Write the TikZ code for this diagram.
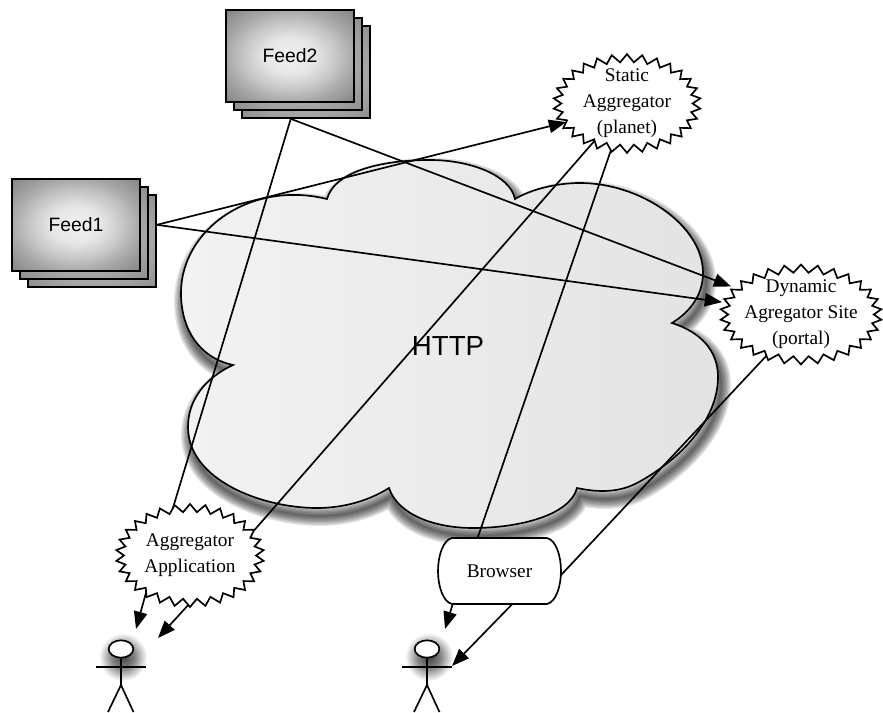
\documentclass[tikz,border=0pt]{standalone}
\usepackage{fontspec}
\setmainfont{Liberation Serif}
\newfontfamily\helv{Liberation Sans}
\usetikzlibrary{arrows.meta,shapes.symbols,shapes.geometric}

\pgfdeclareradialshading{feedshade}{\pgfpointorigin}{color(0bp)=(black!5); color(10bp)=(black!10); color(18bp)=(black!22); color(25bp)=(black!34); color(35bp)=(black!48); color(50bp)=(black!48)}
\pgfdeclareradialshading{stackshade}{\pgfpointorigin}{color(0bp)=(black!24); color(25bp)=(black!36); color(35bp)=(black!44); color(50bp)=(black!44)}
\pgfdeclareradialshading{manshade}{\pgfpointorigin}{color(0bp)=(black!75); color(12bp)=(black!48); color(25bp)=(white); color(50bp)=(white)}

\def\cloudpath{(327,199) .. controls (250,180) and (181,230) .. (181,293)
  .. controls (181,330) and (200,358) .. (233,365)
  .. controls (205,378) and (188,400) .. (188,427)
  .. controls (188,480) and (262,508) .. (317,508)
  .. controls (345,508) and (370,500) .. (389,488)
  .. controls (398,515) and (435,528) .. (473,528)
  .. controls (520,528) and (570,515) .. (577,488)
  .. controls (600,493) and (620,492) .. (637,483)
  .. controls (680,460) and (718,420) .. (718,377)
  .. controls (718,350) and (700,332) .. (672,323)
  .. controls (690,312) and (703,295) .. (703,273)
  .. controls (703,225) and (640,183) .. (580,183)
  .. controls (555,183) and (530,190) .. (515,199)
  .. controls (510,175) and (470,160) .. (430,160)
  .. controls (385,160) and (335,170) .. (327,199) -- cycle}

\tikzset{
  feedbox/.style={draw,line width=1.25pt,shade,shading=feedshade,
    minimum width=96pt,minimum height=69pt,inner sep=0pt,font=\helv\fontsize{14.5}{18}\selectfont},
  stackbox/.style={feedbox,shading=stackshade},
  aggstar/.style={shape=starburst,draw,line width=1.25pt,fill=white,starburst points=30,
    starburst point height=6pt,random starburst=0,outer sep=0pt,align=center,
    font=\fontsize{14.5}{19.5}\selectfont},
  browserbox/.style={rectangle,minimum width=92pt,minimum height=49pt,inner sep=0pt,outer sep=0pt,
    font=\fontsize{14.5}{18}\selectfont},
  link/.style={line width=1.25pt},
  arrlink/.style={line width=1.25pt,-{Triangle[length=13pt,width=10pt]}},
  stickman/.style={line width=1.25pt}
}

\begin{document}
\begin{tikzpicture}[x=0.75pt,y=-0.75pt]
\useasboundingbox (0,0) rectangle (883,713);

%cloud
\foreach \w in {1,3,...,15}
  \draw[line width=\w pt,black,opacity=.11,line join=round,shift={(3,8)}] \cloudpath;
\shade[draw,line width=1.25pt,left color=black!5,right color=black!11] \cloudpath;
\node (http) at (448,346) {\helv\fontsize{20.7}{24}\selectfont HTTP};

%feeds
\node[stackbox] (feed1c) at (92,241) {};
\node[stackbox] (feed1b) at (84,233) {};
\node[feedbox] (feed1) at (76,225) {Feed1};
\node[stackbox] (feed2c) at (306,72) {};
\node[stackbox] (feed2b) at (298,64) {};
\node[feedbox] (feed2) at (290,56) {Feed2};

%aggregators
\node[aggstar,inner xsep=1.8pt,inner ysep=-3.9pt] (static) at (627,103.5) {Static\\Aggregator\\(planet)};
\node[aggstar,inner xsep=-3.9pt,inner ysep=-3.6pt] (dynamic) at (801,314.5) {Dynamic\\Agregator Site\\(portal)};
\node[aggstar,inner xsep=.8pt,inner ysep=7pt] (app) at (190,555.5) {Aggregator\\Application};

%browser
\draw[line width=1.25pt,fill=white] (452,538) -- (547,538)
  .. controls (556,540) and (561,556) .. (561,571)
  .. controls (561,586) and (556,602) .. (547,604) -- (452,604)
  .. controls (443,602) and (438,586) .. (438,571)
  .. controls (438,556) and (443,540) .. (452,538) -- cycle;
\node[browserbox] (browser) at (499.5,571) {Browser};

%users
\shade[shading=manshade] (123,657) circle (24);
\shade[shading=manshade] (429,657) circle (24);
\foreach \n/\c in {usera/121,userb/427}{
  \node[draw,ellipse,line width=1.25pt,fill=white,minimum width=18.5pt,minimum height=13pt,inner sep=0pt] (\n) at (\c,649) {};
  \coordinate (\n neck) at (\c,667);
  \coordinate (\n hip) at (\c,685);
  \draw[stickman] (\n) -- (\n hip) -- +(-13,27) (\n hip) -- +(12.5,27);
  \draw[stickman] ([xshift=-18.4pt]\n neck) -- ([xshift=18.4pt]\n neck);
}

\coordinate (appa) at (136,629);
\coordinate (appb) at (158,638);
\coordinate (bra) at (445,629);
\coordinate (brb) at (452,666);

%connectors
\draw[arrlink] (feed1c.14) -- (static.197);
\draw[arrlink,shorten >=4pt] (feed1c.14) -- (dynamic.171);
\draw[arrlink,shorten >=7pt] (feed2c.252) -- (dynamic.158);
\draw[link] (feed2c.252) -- (app.110);
\draw[link] (static.229) -- (app.21);
\draw[link] (static.251) -- (browser.124);
\draw[link] (dynamic.230) -- (browser.356);
\draw[arrlink] (app.220) -- (appa);
\draw[arrlink] (app.268) -- (appb);
\draw[arrlink] (browser.215) -- (bra);
\draw[arrlink] (browser.292) -- (brb);

\end{tikzpicture}
\end{document}
